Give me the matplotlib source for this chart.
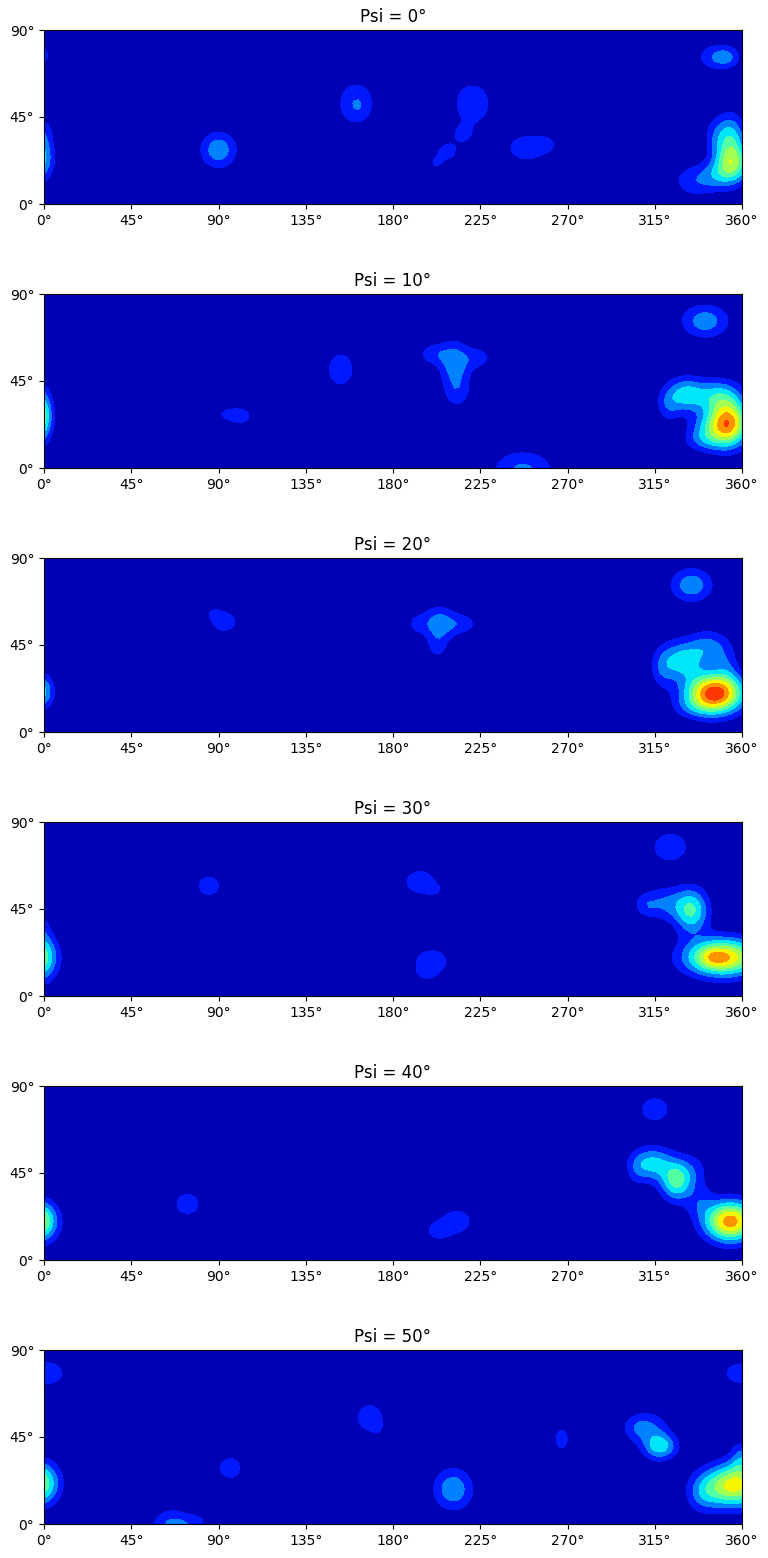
import numpy as np
import matplotlib
matplotlib.use('Agg')
import matplotlib.pyplot as plt

# density peaks of each map: phi, theta, height, spread in phi, spread in theta
peaks_0 = [
    (-2, 24, 0.38, 4.5, 8), (-1, 38, 0.12, 4, 5), (-1, 77, 0.14, 3.5, 5),
    (90, 28, 0.275, 6.4, 6.4), (161, 52, 0.205, 6.6, 8.0), (162, 50, 0.02, 1.5, 2),
    (221, 52, 0.19, 7, 8), (216, 36, 0.12, 4.5, 4), (208, 27, 0.14, 4.5, 4), (202, 21, 0.1, 3, 3),
    (249, 29, 0.17, 8, 5.5), (259, 31, 0.1, 4, 3), (311, 38, 0.105, 2.5, 2),
    (352, 76, 0.21, 5, 4), (344, 76, 0.13, 6, 5),
    (355, 21, 0.5, 6, 7), (354, 35, 0.32, 5, 8), (346, 35, 0.12, 4, 7),
    (336, 12, 0.17, 8, 6), (347, 15, 0.15, 6, 5),
]
peaks_10 = [
    (-2, 27, 0.55, 4, 9), (153, 51, 0.15, 6.4, 8.3),
    (212, 54, 0.26, 5.5, 8), (201, 59, 0.15, 6, 4), (224, 57, 0.14, 5, 4), (213, 39, 0.14, 5, 6),
    (101, 27, 0.16, 5, 3.5), (94, 28, 0.1, 3, 2), (201, 19, 0.11, 1.5, 1.2),
    (247, -1, 0.22, 11, 7), (341, 76, 0.26, 8.5, 6),
    (353, 23, 0.74, 7, 8), (342, 20, 0.2, 7, 6), (331, 38, 0.34, 7, 6), (348, 37, 0.3, 8, 6),
    (322, 32, 0.14, 4, 6), (340, 14, 0.12, 7, 4),
]
peaks_20 = [
    (-2, 21, 0.38, 4.5, 6), (93, 57, 0.15, 6, 5), (88, 61, 0.09, 2.5, 2),
    (204, 56, 0.27, 6.5, 6), (192, 56, 0.1, 3.5, 3.5), (217, 56, 0.13, 5, 3.5), (203, 44, 0.13, 3.5, 4.5),
    (334, 76, 0.27, 7.5, 6), (346, 20, 0.88, 10, 7),
    (329, 37, 0.34, 8, 7), (343, 44, 0.22, 7, 6), (319, 32, 0.12, 4, 7), (335, 13, 0.1, 8, 4),
    (352, 35, 0.12, 4, 7),
]
peaks_30 = [
    (-2, 20, 0.5, 6, 8), (-1, 36, 0.1, 3, 6), (85, 57, 0.15, 5.5, 5),
    (194, 59, 0.16, 7, 5.5), (201, 55, 0.1, 3, 2), (200, 18, 0.15, 8, 6), (197, 12, 0.08, 4, 3),
    (323, 77, 0.205, 6.5, 5.5), (350, 20, 0.72, 13, 6.5), (345, 20, 0.1, 4, 3),
    (334, 44, 0.4, 6, 8), (320, 48, 0.2, 8, 6), (310, 47, 0.1, 4, 4),
]
peaks_40 = [
    (-3, 20, 0.6, 6.5, 7), (11.5, 79, 0.115, 2.5, 1.7), (74, 29, 0.15, 6, 5.5),
    (213, 20, 0.17, 6, 5), (203, 15, 0.14, 5, 4),
    (315, 78, 0.15, 7, 6),
    (326, 41, 0.42, 5.5, 7), (314, 50, 0.32, 7, 6), (335, 46, 0.12, 6, 7), (306, 47, 0.1, 4, 6),
    (354, 20, 0.76, 9, 7), (338, 30, 0.13, 5, 6),
]
peaks_50 = [
    (0, 78, 0.17, 9, 5.5), (360, 78, 0.16, 8, 5),
    (-3, 21, 0.55, 7, 7.5), (66, -1, 0.23, 7, 6), (78, 1, 0.12, 5, 3),
    (96, 29, 0.15, 5.5, 5.5), (168, 55, 0.15, 6.5, 7), (172, 50, 0.05, 2, 3),
    (211, 18, 0.28, 7, 7.5), (267, 44, 0.13, 4, 6.5),
    (318, 40, 0.3, 6, 4.5), (307, 50, 0.2, 6, 5), (316, 47, 0.12, 6, 8),
    (356, 20, 0.65, 10, 7.5), (340, 16, 0.2, 6, 7), (360, 34, 0.2, 4, 6),
]

psi_values = [0, 10, 20, 30, 40, 50]
all_peaks = [peaks_0, peaks_10, peaks_20, peaks_30, peaks_40, peaks_50]
levels = np.arange(0, 1.01, 0.1)
ticks_phi = [0, 45, 90, 135, 180, 225, 270, 315, 360]
ticks_theta = [0, 45, 90]

phi = np.arange(0, 361, 2.0)
theta = np.arange(0, 91, 2.0)
PHI, THETA = np.meshgrid(phi, theta)


def density_map(peaks):
    z = np.zeros_like(PHI)
    for p, t, h, sp, st in peaks:
        z += h * np.exp(-(PHI - p) ** 2 / (2 * sp ** 2) - (THETA - t) ** 2 / (2 * st ** 2))
    return z


W, H = 768, 1558
fig = plt.figure(figsize=(W / 100, H / 100), dpi=100)
for i, (psi, peaks) in enumerate(zip(psi_values, all_peaks)):
    top = 30 + i * 264
    ax = fig.add_axes([44 / W, 1 - (top + 174) / H, 698 / W, 174 / H])
    ax.contourf(PHI, THETA, density_map(peaks), levels=levels, cmap='jet', vmin=0, vmax=1, extend='max')
    ax.set_title(f'Psi = {psi}°')
    ax.set_xticks(ticks_phi)
    ax.set_xticklabels([f'{v}°' for v in ticks_phi])
    ax.set_yticks(ticks_theta)
    ax.set_yticklabels([f'{v}°' for v in ticks_theta])

fig.savefig('out.png', dpi=100)
